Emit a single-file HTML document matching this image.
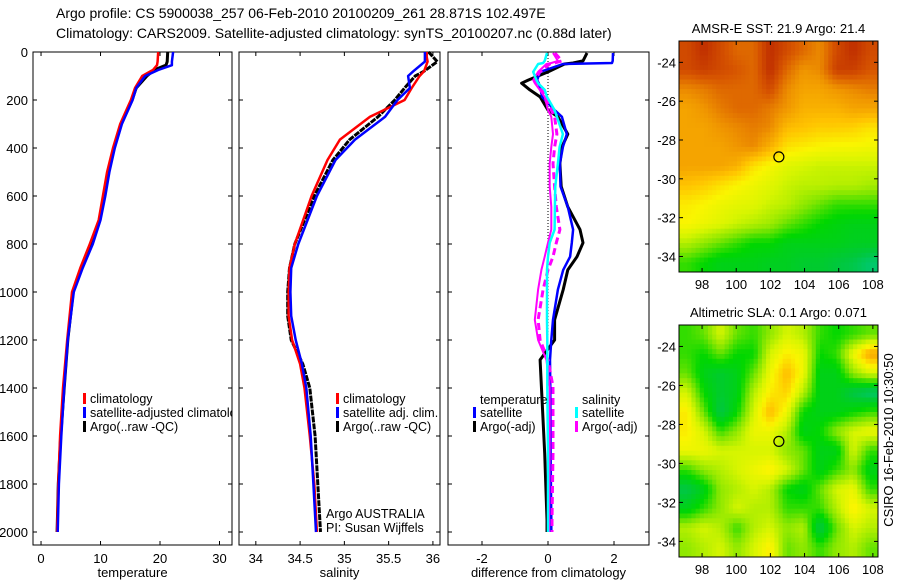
<!DOCTYPE html>
<html><head><meta charset="utf-8">
<style>
body{margin:0;background:#fff;}
svg{display:block;font-family:"Liberation Sans",sans-serif;}
text{fill:#000;}
</style></head>
<body>
<svg id="chart" width="900" height="580" viewBox="0 0 900 580">
<defs>
<clipPath id="clipMap1"><rect x="679" y="41" width="199" height="231"/></clipPath>
<clipPath id="clipMap2"><rect x="679" y="325" width="199" height="232"/></clipPath>
<clipPath id="clipP1"><rect x="33" y="52" width="199" height="493"/></clipPath>
</defs>
<text x="56" y="18" font-size="14">Argo profile: CS 5900038_257 06-Feb-2010 20100209_261 28.871S 102.497E</text>
<text x="56" y="38" font-size="14">Climatology: CARS2009. Satellite-adjusted climatology: synTS_20100207.nc (0.88d later)</text>
<g id="g"></g>
</svg>
<script>
// ---- Data ----
const tempDepths = [0,40,55,75,100,150,200,300,400,500,600,700,800,900,1000,1200,1400,1600,1800,2000];
const tempClim   = [19.7,19.6,19.5,18.8,17.0,15.8,15.1,13.3,12.1,11.1,10.4,9.7,8.2,6.6,5.2,4.4,3.7,3.2,2.9,2.7];
const tempSat    = [22.2,22.0,22.0,19.7,17.5,16.0,15.4,13.6,12.4,11.5,10.8,10.0,8.7,7.0,5.5,4.5,3.9,3.4,3.0,2.8];
const tempArgo   = [21.3,21.2,21.0,19.0,17.8,16.0,15.3,13.5,12.3,11.3,10.6,9.9,8.5,6.9,5.4,4.5,3.9,3.3,2.9,2.7];
const salDepths = [0,20,40,80,100,150,200,270,365,450,600,800,900,1000,1100,1200,1300,1400,1600,1800,2000];
const salClim   = [35.93,35.93,35.94,35.9,35.85,35.76,35.68,35.29,34.95,34.81,34.63,34.44,34.38,34.37,34.37,34.41,34.50,34.55,34.61,34.66,34.69];
const salSat    = [35.91,35.91,35.91,35.78,35.72,35.74,35.60,35.46,35.12,34.90,34.69,34.48,34.40,34.39,34.40,34.45,34.52,34.57,34.62,34.65,34.68];
const salArgo   = [35.95,36.0,36.05,35.9,35.8,35.68,35.57,35.38,35.06,34.87,34.66,34.44,34.38,34.36,34.36,34.40,34.53,34.61,34.67,34.70,34.73];
const diffDepths = [4,37,46,50,83,117,130,158,187,242,270,342,396,465,560,645,740,795,853,908,990,1116,1200,1283,1394,1672,1950,2000];
const diffTempSat  = [1.97,1.96,1.94,0.45,-0.24,-0.33,-0.28,-0.22,-0.18,0.2,0.42,0.57,0.45,0.36,0.38,0.6,0.76,0.72,0.67,0.46,0.3,0.15,0.1,0.06,0.07,0.08,0.1,0.1];
const diffTempArgo = [1.18,1.06,0.76,0.5,0.0,-0.6,-0.8,-0.55,-0.24,0.0,0.3,0.6,0.42,0.36,0.4,0.6,0.97,1.06,0.88,0.6,0.46,0.2,0.2,-0.24,-0.2,-0.1,-0.03,-0.03];
const diffSalSat   = [-0.03,-0.1,-0.15,-0.3,-0.45,-0.35,-0.3,-0.1,-0.03,0.2,0.27,0.45,0.35,0.3,0.22,0.21,0.2,0.05,0.0,-0.03,-0.03,-0.03,-0.02,-0.02,-0.02,0.0,0.0,0.0];
const diffSalArgo  = [0.21,0.42,0.2,0.05,-0.25,-0.39,-0.35,-0.2,-0.05,0.1,0.2,0.27,0.2,0.15,0.2,0.25,0.36,0.25,0.15,0.0,-0.15,-0.3,-0.24,0.0,0.15,0.15,0.12,0.12];
const diffSalArgoRaw = [0.15,0.3,0.1,-0.05,-0.3,-0.45,-0.4,-0.25,-0.1,0.0,0.1,0.15,0.1,0.05,0.05,0.1,0.1,0.0,-0.1,-0.2,-0.3,-0.4,-0.3,-0.05,0.05,0.05,0.03,0.03];
const depthTicks = [0,200,400,600,800,1000,1200,1400,1600,1800,2000];
const tempTicks = [0,10,20,30];
const salTicks = [34,34.5,35,35.5,36];
const diffTicks = [-2,0,2];
const lonTicks = [98,100,102,104,106,108];
const latTicks = [-24,-26,-28,-30,-32,-34];
const argoLon = 102.497, argoLat = -28.871;
const sstGrid = [
[0.9,0.95,0.9,0.85,0.85,0.95,0.9,0.85,0.8,0.9,0.95,0.9],
[0.9,0.92,0.9,0.88,0.85,0.95,0.85,0.78,0.8,0.92,0.92,0.88],
[0.8,0.82,0.85,0.85,0.85,0.9,0.8,0.75,0.75,0.78,0.8,0.82],
[0.75,0.78,0.82,0.85,0.85,0.82,0.78,0.72,0.72,0.72,0.75,0.75],
[0.75,0.75,0.78,0.8,0.82,0.8,0.7,0.68,0.66,0.66,0.65,0.62],
[0.75,0.75,0.75,0.78,0.8,0.72,0.62,0.6,0.58,0.57,0.57,0.56],
[0.75,0.75,0.75,0.72,0.62,0.57,0.52,0.5,0.48,0.48,0.48,0.48],
[0.68,0.66,0.62,0.58,0.55,0.52,0.48,0.46,0.46,0.45,0.45,0.43],
[0.6,0.58,0.55,0.53,0.52,0.48,0.46,0.4,0.35,0.3,0.3,0.3],
[0.58,0.55,0.52,0.48,0.45,0.42,0.35,0.3,0.25,0.22,0.2,0.2],
[0.45,0.4,0.35,0.3,0.25,0.25,0.2,0.2,0.2,0.2,0.18,0.18],
[0.3,0.25,0.2,0.2,0.2,0.18,0.18,0.15,0.15,0.12,0.1,0.05]];
const slaGrid = [
[0.3,0.35,0.5,0.35,0.3,0.4,0.5,0.45,0.3,0.25,0.3,0.35],
[0.3,0.25,0.35,0.25,0.25,0.5,0.6,0.55,0.25,0.3,0.55,0.75],
[0.35,0.2,0.15,0.2,0.35,0.55,0.7,0.55,0.2,0.2,0.4,0.5],
[0.5,0.25,0.15,0.2,0.45,0.6,0.65,0.45,0.2,0.2,0.1,0.05],
[0.6,0.35,0.1,0.25,0.5,0.7,0.55,0.25,0.2,0.2,0.25,0.3],
[0.6,0.5,0.3,0.4,0.55,0.55,0.45,0.2,0.25,0.4,0.5,0.55],
[0.55,0.55,0.5,0.5,0.5,0.5,0.4,0.35,0.2,0.2,0.5,0.3],
[0.3,0.4,0.45,0.5,0.55,0.6,0.5,0.35,0.2,0.3,0.4,0.2],
[0.1,0.2,0.4,0.45,0.5,0.45,0.25,0.2,0.35,0.5,0.55,0.3],
[0.2,0.3,0.4,0.5,0.45,0.45,0.3,0.3,0.3,0.45,0.6,0.5],
[0.45,0.5,0.45,0.3,0.45,0.5,0.4,0.45,0.1,0.35,0.5,0.45],
[0.4,0.45,0.5,0.4,0.5,0.6,0.35,0.4,0.3,0.4,0.45,0.35]];

// ---- Drawing ----
const NS='http://www.w3.org/2000/svg';
const G=document.getElementById('g');
function el(tag,attrs,parent){const e=document.createElementNS(NS,tag);for(const k in attrs)e.setAttribute(k,attrs[k]);(parent||G).appendChild(e);return e;}
function txt(x,y,s,size,anchor,parent){const t=el('text',{x:x,y:y,'font-size':size,'text-anchor':anchor||'start'},parent);t.textContent=s;return t;}
const yDepth=d=>52+d*0.24;
const PB=545;
const panels=[
 {name:'temperature-panel',x0:33,x1:232,v0:-1.35,v1:32.1,ticks:tempTicks,title:'temperature'},
 {name:'salinity-panel',x0:239,x1:440,v0:33.81,v1:36.08,ticks:salTicks,title:'salinity'},
 {name:'difference-panel',x0:448,x1:649,v0:-3.03,v1:3.06,ticks:diffTicks,title:'difference from climatology'}];
panels.forEach((p,i)=>{
 p.sx=v=>p.x0+(v-p.v0)/(p.v1-p.v0)*(p.x1-p.x0);
 const g=el('g',{});
 
 
 const r=el('rect',{x:p.x0,y:52,width:p.x1-p.x0,height:PB-52,fill:'none',stroke:'#000','stroke-width':1},g);
 
 
 depthTicks.forEach(d=>{
  const y=yDepth(d);
  el('line',{x1:p.x0,y1:y,x2:p.x0+4,y2:y,stroke:'#000'},g);
  el('line',{x1:p.x1,y1:y,x2:p.x1-4,y2:y,stroke:'#000'},g);
  if(i===0){const t=txt(p.x0-5,y+5,String(d),13,'end',g);
   
   }
 });
 p.ticks.forEach(v=>{
  const x=p.sx(v);
  el('line',{x1:x,y1:PB,x2:x,y2:PB-4,stroke:'#000'},g);
  el('line',{x1:x,y1:52,x2:x,y2:56,stroke:'#000'},g);
  const t=txt(x,563,String(v),13,'middle',g);
  
  
 });
 const at=txt((p.x0+p.x1)/2,577,p.title,13,'middle',g);
 
 
});
function line(p,vals,depths,color,w,name,dash){
 const pts=vals.map((v,k)=>p.sx(v).toFixed(1)+','+yDepth(depths[k]).toFixed(1)).join(' ');
 const l=el('polyline',{points:pts,fill:'none',stroke:color,'stroke-width':w,'stroke-linejoin':'round'});
 if(dash)l.setAttribute('stroke-dasharray',dash);
 
 
}
const zl=el('line',{x1:panels[2].sx(0),y1:52,x2:panels[2].sx(0),y2:520,stroke:'#000','stroke-width':1,'stroke-dasharray':'1,2'});


line(panels[0],tempArgo,tempDepths,'#000',3,'temp-argo-line');
line(panels[0],tempClim,tempDepths,'#f00',2.5,'temp-climatology-line');
line(panels[0],tempSat,tempDepths,'#00f',2.5,'temp-satellite-line');
line(panels[1],salArgo,salDepths,'#000',3,'sal-argo-line','6,1');
line(panels[1],salClim,salDepths,'#f00',2.5,'sal-climatology-line');
line(panels[1],salSat,salDepths,'#00f',2.5,'sal-satellite-line');
line(panels[2],diffTempArgo,diffDepths,'#000',3,'diff-temp-argo-line');
line(panels[2],diffTempSat,diffDepths,'#00f',2.5,'diff-temp-satellite-line');
line(panels[2],diffSalArgoRaw,diffDepths,'#f0f',2,'diff-sal-argo-raw-line');
line(panels[2],diffSalArgo,diffDepths,'#f0f',3,'diff-sal-argo-line','7,4');
line(panels[2],diffSalSat,diffDepths,'#0ff',2.5,'diff-sal-satellite-line');
function legend(x,y,color,label,name,clip){
 const g=el('g',clip?{'clip-path':'url(#'+clip+')'}:{});
 
 
 if(color)el('rect',{x:x,y:y-10,width:3,height:11,fill:color},g);
 txt(x+7,y,label,12.5,'start',g);
}
legend(83,403,'#f00','climatology','legend-climatology');
legend(83,417,'#00f','satellite-adjusted climatology','legend-satellite-adjusted','clipP1');
legend(83,431,'#000','Argo(..raw -QC)','legend-argo');
legend(336,403,'#f00','climatology','legend-sal-climatology');
legend(336,417,'#00f','satellite adj. clim.','legend-sal-satellite');
legend(336,431,'#000','Argo(..raw -QC)','legend-sal-argo');
legend(473,404,null,'temperature','legend-temperature-heading');
legend(473,417,'#00f','satellite','legend-diff-temp-satellite');
legend(473,431,'#000','Argo(-adj)','legend-diff-temp-argo');
legend(575,404,null,'salinity','legend-salinity-heading');
legend(575,417,'#0ff','satellite','legend-diff-sal-satellite');
legend(575,431,'#f0f','Argo(-adj)','legend-diff-sal-argo');
const pi1=txt(326,518,'Argo AUSTRALIA',12.5);


const pi2=txt(326,532,'PI: Susan Wijffels',12.5);


const stops=[[0,[0,200,140]],[0.12,[0,200,60]],[0.25,[0,215,0]],[0.38,[130,230,0]],[0.5,[215,245,0]],[0.58,[250,245,0]],[0.68,[255,195,0]],[0.78,[240,150,0]],[0.88,[215,85,0]],[1,[175,20,0]]];
function cmap(v){v=Math.max(0,Math.min(1,v));for(let i=1;i<stops.length;i++){if(v<=stops[i][0]){const a=stops[i-1],b=stops[i];const t=(v-a[0])/(b[0]-a[0]);return 'rgb('+a[1].map((c,k)=>Math.round(c+(b[1][k]-c)*t)).join(',')+')';}}return 'rgb(175,20,0)';}
function sample(grid,fy,fx){ // bilinear render sampling
 const nr=grid.length,nc=grid[0].length;
 fy=Math.max(0,Math.min(nr-1,fy));fx=Math.max(0,Math.min(nc-1,fx));
 const r0=Math.floor(fy),c0=Math.floor(fx),r1=Math.min(nr-1,r0+1),c1=Math.min(nc-1,c0+1);
 const ty=fy-r0,tx=fx-c0;
 return (grid[r0][c0]*(1-tx)+grid[r0][c1]*tx)*(1-ty)+(grid[r1][c0]*(1-tx)+grid[r1][c1]*tx)*ty;
}
function map(y0,y1,grid,title,name,clip){
 const x0=679,x1=878,lon0=96.65,lon1=108.3,lat0=-22.9,lat1=-34.8;
 const sx=l=>x0+(l-lon0)/(lon1-lon0)*(x1-x0);
 const sy=l=>y0+(l-lat0)/(lat1-lat0)*(y1-y0);
 const g=el('g',{});
 
 
 const cg=el('g',{'clip-path':'url(#'+clip+')'},g);
 const nr=grid.length,nc=grid[0].length;
 const UP=4,R=nr*UP,C=nc*UP;
 const cw=(x1-x0)/C,ch=(y1-y0)/R;
 for(let r=0;r<R;r++)for(let c=0;c<C;c++){
  const v=sample(grid,(r+0.5)/UP-0.5,(c+0.5)/UP-0.5);
  const cell=el('rect',{x:(x0+c*cw).toFixed(1),y:(y0+r*ch).toFixed(1),width:(cw+0.6).toFixed(1),height:(ch+0.6).toFixed(1),fill:cmap(v)},cg);
  
  
 }
 el('rect',{x:x0,y:y0,width:x1-x0,height:y1-y0,fill:'none',stroke:'#000'},g);
 lonTicks.forEach(l=>{const x=sx(l);el('line',{x1:x,y1:y1,x2:x,y2:y1-4,stroke:'#000'},g);el('line',{x1:x,y1:y0,x2:x,y2:y0+4,stroke:'#000'},g);
  const t=txt(x,y1+17,String(l),13,'middle',g);
  
  });
 latTicks.forEach(l=>{const y=sy(l);el('line',{x1:x0,y1:y,x2:x0+4,y2:y,stroke:'#000'},g);el('line',{x1:x1,y1:y,x2:x1-4,y2:y,stroke:'#000'},g);
  const t=txt(x0-3,y+5,String(l),13,'end',g);
  
  });
 const m=el('circle',{cx:sx(argoLon),cy:sy(argoLat),r:5,fill:'none',stroke:'#000','stroke-width':1.2},g);
 
 
 const t=txt((x0+x1)/2,y0-8,title,13,'middle',g);
 
 
}
map(41,272,sstGrid,'AMSR-E SST: 21.9 Argo: 21.4','sst-map','clipMap1');
map(325,557,slaGrid,'Altimetric SLA: 0.1 Argo: 0.071','sla-map','clipMap2');
const cs=txt(0,0,'CSIRO 16-Feb-2010 10:30:50',13,'middle');
cs.setAttribute('transform','translate(893,440) rotate(-90)');


</script>
</body></html>
